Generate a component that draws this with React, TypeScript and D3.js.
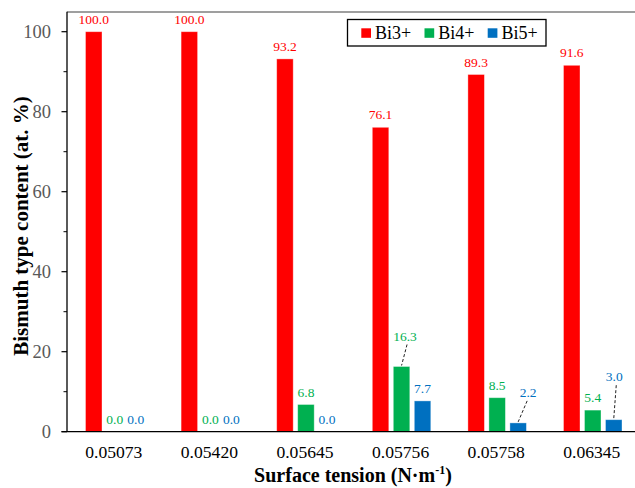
import React from "react";
import * as d3 from "d3";

const categories = ["0.05073", "0.05420", "0.05645", "0.05756", "0.05758", "0.06345"];
const seriesNames = ["Bi3+", "Bi4+", "Bi5+"];
const bi3 = [100.0, 100.0, 93.2, 76.1, 89.3, 91.6];
const bi4 = [0.0, 0.0, 6.8, 16.3, 8.5, 5.4];
const bi5 = [0.0, 0.0, 0.0, 7.7, 2.2, 3.0];
const yTicks = [0, 20, 40, 60, 80, 100];
const yMinorTicks = [10, 30, 50, 70, 90];

const colors = ["#FF0000", "#00B050", "#0070C0"];

// label nudges (pixels) for crowded labels with dashed leader lines: [category, series, dx, lift]
const nudges: [number, number, number, number][] = [
  [3, 1, 3.5, 26],
  [4, 2, 10, 26],
  [5, 2, 0.5, 38.5],
];

const W = 635;
const H = 488;
const left = 67;
const top = 11.7;
const bottom = 431.7;
const catW = 95.6;
const right = left + catW * categories.length;
const FONT = { fontFamily: "Liberation Serif" };

export default function App() {
  const x0 = d3.scaleBand<string>().domain(categories).range([left, right]).padding(0);
  const x1 = d3
    .scaleBand<string>()
    .domain(seriesNames)
    .range([18.5, 18.5 + 58.5])
    .paddingInner(4.5 / 21)
    .paddingOuter(0);
  const y = d3.scaleLinear().domain([0, 105]).range([bottom, top]);
  const series = [bi3, bi4, bi5];

  const bars: React.ReactNode[] = [];
  const labels: React.ReactNode[] = [];
  categories.forEach((c, ci) => {
    seriesNames.forEach((s, si) => {
      const v = series[si][ci];
      const bx = (x0(c) as number) + (x1(s) as number);
      const bw = x1.bandwidth();
      const by = y(v);
      const cx = bx + bw / 2;
      if (v > 0) {
        bars.push(
          <rect
            key={`b${ci}-${si}`}
            x={bx}
            y={by}
            width={bw}
            height={y(0) - by}
            fill={colors[si]}
            stroke="#ffffff"
            strokeOpacity={0.45}
            strokeWidth={0.8}
          />
        );
      }
      const n = nudges.find((d) => d[0] === ci && d[1] === si);
      const lx = n ? cx + n[2] : cx;
      const ly = n ? by - n[3] : by - 8;
      labels.push(
        <text
          key={`l${ci}-${si}`}
          x={lx}
          y={ly}
          textAnchor="middle"
          style={FONT}
          fontSize={13.5}
          fill={colors[si]}
        >
          {v.toFixed(1)}
        </text>
      );
      if (n) {
        labels.push(
          <line
            key={`d${ci}-${si}`}
            x1={lx + (n[2] > 5 ? -1 : 2)}
            y1={ly + 4}
            x2={cx}
            y2={by - 1}
            stroke="#222"
            strokeWidth={1}
            strokeDasharray="3,2"
          />
        );
      }
    });
  });

  return (
    <svg
      width={W}
      height={H}
      style={{ position: "absolute", left: 0, top: 0, background: "#fff", fontFamily: "Liberation Serif" }}
    >
      <rect x={0} y={0} width={W} height={H} fill="#fff" />
      {/* top border */}
      <line x1={left} x2={W} y1={top + 0.3} y2={top + 0.3} stroke="#404040" strokeWidth={1.2} />
      {bars}
      {/* axes */}
      <line x1={left} x2={left} y1={top} y2={bottom} stroke="#000" strokeWidth={1.3} />
      <line x1={left - 5.5} x2={W} y1={bottom} y2={bottom} stroke="#000" strokeWidth={1.3} />
      {yTicks.map((t) => (
        <g key={`t${t}`}>
          <line x1={left - 5.5} x2={left} y1={y(t)} y2={y(t)} stroke="#000" strokeWidth={1.2} />
          <text
            x={51}
            y={y(t) + 6}
            textAnchor="end"
            style={FONT}
            fontSize={18.5}
            fill="#595959"
          >
            {t}
          </text>
        </g>
      ))}
      {yMinorTicks.map((t) => (
        <line key={`m${t}`} x1={left - 3.5} x2={left} y1={y(t)} y2={y(t)} stroke="#000" strokeWidth={1} />
      ))}
      {categories.map((c) => (
        <text
          key={`x${c}`}
          x={(x0(c) as number) + x0.bandwidth() / 2 - 1}
          y={458}
          textAnchor="middle"
          style={FONT}
          fontSize={17.6}
          fill="#000"
        >
          {c}
        </text>
      ))}
      {labels}
      {/* axis titles */}
      <text
        x={353}
        y={482}
        textAnchor="middle"
        style={FONT}
        fontSize={20}
        fontWeight="bold"
        fill="#000"
      >
        Surface tension (N·m
        <tspan fontSize={12} dy={-8}>
          -1
        </tspan>
        <tspan dy={8}>)</tspan>
      </text>
      <text
        transform={`translate(27.5, 226) rotate(-90)`}
        textAnchor="middle"
        style={FONT}
        fontSize={21}
        fontWeight="bold"
        fill="#000"
      >
        Bismuth type content (at. %)
      </text>
      {/* legend */}
      <rect x={347.5} y={19.5} width={198.5} height={26.5} fill="#fff" stroke="#000" strokeWidth={1.3} />
      {seriesNames.map((s, i) => (
        <g key={`lg${s}`} transform={`translate(${361.3 + i * 63.2}, 0)`}>
          <rect x={0} y={28.3} width={9.7} height={9.5} fill={colors[i]} />
          <text x={13.7} y={39.2} style={FONT} fontSize={18} fill="#000">
            {s}
          </text>
        </g>
      ))}
    </svg>
  );
}
